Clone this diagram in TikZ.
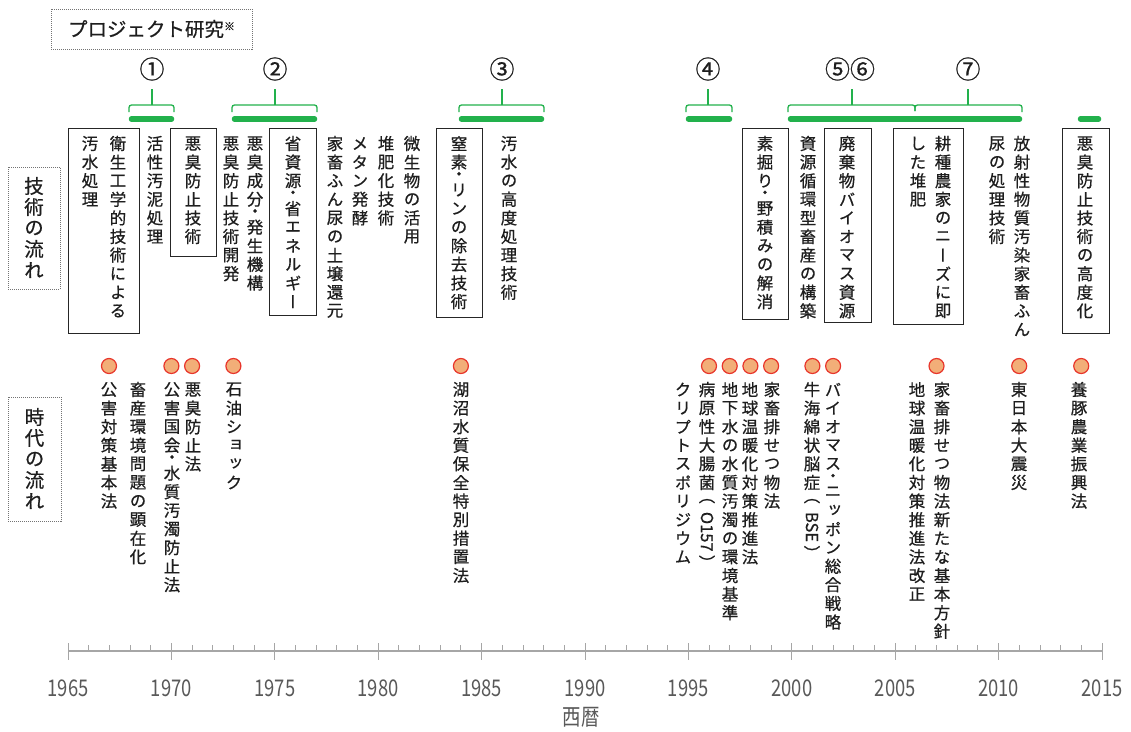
\documentclass[tikz,border=0pt]{standalone}
\usepackage{fontspec}
\usepackage{graphicx}
\setmainfont{Noto Sans CJK JP}
\newfontfamily\jp[FakeBold=0.6]{Noto Sans CJK JP}
\newfontfamily\jpv[RawFeature=+vert,FakeBold=0.6]{Noto Sans CJK JP}
\newfontfamily\jpn[FakeStretch=0.8]{Noto Sans CJK JP}
\definecolor{grn}{HTML}{22B14C}
\definecolor{dotfill}{HTML}{F2AE78}
\definecolor{dotline}{HTML}{E8352B}
\definecolor{axisgray}{HTML}{A6A6A6}
\definecolor{txtgray}{HTML}{595959}
\definecolor{ink}{HTML}{1E1E1E}
\makeatletter
\newdimen\vtpitch \vtpitch=18.6pt
\newdimen\vtw \vtw=17pt
\def\vtdot{・}
\newcommand\vrot[1]{\rotatebox{-90}{#1}}
\newcommand\vt[1]{\vbox{\offinterlineskip\@tfor\vch:=#1\do{\vt@cell}}}
\def\vt@cell{%
  \setbox\z@\hbox{\vch}%
  \dimen@=\ht\z@ \advance\dimen@\dp\z@
  \ifx\vch\vtdot \dimen@=0.5\vtpitch
  \else\ifdim\dimen@>\vtpitch \advance\dimen@ 3pt \else \dimen@=\vtpitch\fi\fi
  \hbox to\vtw{\hss\vbox to\dimen@{\vss\box\z@\vss}\hss}}
\makeatother
\begin{document}
\begin{tikzpicture}[x=1pt,y=-1pt,
  vtxt/.style={inner sep=0pt, anchor=north, text=ink, font=\jpv\fontsize{16.5}{18.6}\selectfont},
  tbox/.style={draw=black!85, line width=0.9pt},
  dbox/.style={draw=black!55, line width=0.9pt, dash pattern=on 1pt off 1pt, inner sep=0pt, text=ink},
  brk/.style={draw=grn, line width=1.3pt, rounded corners=2.5pt},
  gbar/.style={draw=grn, line width=5.5pt, line cap=round},
  numlab/.style={font=\jp\fontsize{25}{25}\selectfont, text=ink, inner sep=0pt},
  evdot/.style={circle, minimum size=15pt, inner sep=0pt, fill=dotfill, draw=dotline, line width=1.2pt},
  axisln/.style={draw=axisgray, line width=1.4pt},
  tickln/.style={draw=axisgray, line width=0.9pt},
  yr/.style={font=\jpn\fontsize{23}{23}\selectfont, text=txtgray, inner sep=0pt}]
\fill[white] (0,0) rectangle (1131,731);
\useasboundingbox (0,0) rectangle (1131,731);

% header boxes
\node[dbox, minimum width=201pt, minimum height=40pt] (proj) at (151.5,29)
  {\jp\fontsize{19.5}{20}\selectfont プロジェクト研究\raisebox{6pt}{\fontsize{11}{11}\selectfont ※}};
\node[dbox, minimum width=52pt, minimum height=122pt, font=\jpv\fontsize{19.5}{21}\selectfont] (lbltech) at (34,228)
  {\vtpitch=21pt\vt{技術の流れ}};
\node[dbox, minimum width=53pt, minimum height=124pt, font=\jpv\fontsize{19.5}{21}\selectfont] (lblera) at (34.5,459)
  {\vtpitch=21pt\vt{時代の流れ}};

% project numbers
\node[numlab] (p1) at (152,69) {①};
\node[numlab] (p2) at (275,69) {②};
\node[numlab] (p3) at (502,69) {③};
\node[numlab] (p4) at (708,69) {④};
\node[numlab] (p56) at (850,69) {⑤⑥};
\node[numlab] (p7) at (968,69) {⑦};

% brackets
\draw[brk] (129,112) -- (129,105) -- (174,105) -- (174,112);
\draw[brk] (152,105) -- (152,89);
\draw[brk] (232,112) -- (232,105) -- (317,105) -- (317,112);
\draw[brk] (275,105) -- (275,89);
\draw[brk] (459,112) -- (459,105) -- (544,105) -- (544,112);
\draw[brk] (502,105) -- (502,89);
\draw[brk] (686,112) -- (686,105) -- (732,105) -- (732,112);
\draw[brk] (708,105) -- (708,89);
\draw[brk] (788,112) -- (788,105) -- (915,105) -- (915,111);
\draw[brk] (915,111) -- (915,105) -- (1022,105) -- (1022,112);
\draw[brk] (852,105) -- (852,89);
\draw[brk] (968,105) -- (968,89);

% green bars
\draw[gbar] (131.5,119) -- (171.5,119);
\draw[gbar] (234.5,119) -- (314.5,119);
\draw[gbar] (461.5,119) -- (541.5,119);
\draw[gbar] (688.5,119) -- (729.5,119);
\draw[gbar] (790.5,119) -- (1019.5,119);
\draw[gbar] (1080.5,119) -- (1098.5,119);

% technology boxes
\draw[tbox] (68,128) rectangle (139,333);
\draw[tbox] (170,128) rectangle (216,256);
\draw[tbox] (269,128) rectangle (316,315);
\draw[tbox] (436,128) rectangle (482,317);
\draw[tbox] (742,128) rectangle (788,319);
\draw[tbox] (824,128) rectangle (871,322);
\draw[tbox] (893,128) rectangle (963,324);
\draw[tbox] (1062,128) rectangle (1109,333);

% technology texts
\node[vtxt] (t1a) at (118,134) {\vt{衛生工学的技術による}};
\node[vtxt] (t1b) at (90,134) {\vt{汚水処理}};
\node[vtxt] (t2) at (155,134) {\vt{活性汚泥処理}};
\node[vtxt] (t3) at (193,134) {\vt{悪臭防止技術}};
\node[vtxt] (t4a) at (255,134) {\vt{悪臭成分・発生機構}};
\node[vtxt] (t4b) at (231,134) {\vt{悪臭防止技術開発}};
\node[vtxt] (t5) at (293,134) {\vt{省資源・省エネルギー}};
\node[vtxt] (t6) at (335,134) {\vt{家畜ふん尿の土壌還元}};
\node[vtxt] (t7) at (360,134) {\vt{メタン発酵}};
\node[vtxt] (t8) at (386,134) {\vt{堆肥化技術}};
\node[vtxt] (t9) at (412,134) {\vt{微生物の活用}};
\node[vtxt] (t10) at (459,134) {\vt{窒素・リンの除去技術}};
\node[vtxt] (t11) at (509,134) {\vt{汚水の高度処理技術}};
\node[vtxt] (t12) at (765,134) {\vt{素掘り・野積みの解消}};
\node[vtxt] (t13) at (808,134) {\vt{資源循環型畜産の構築}};
\node[vtxt] (t14) at (847,134) {\vt{廃棄物バイオマス資源}};
\node[vtxt] (t15a) at (943,134) {\vt{耕種農家のニーズに即}};
\node[vtxt] (t15b) at (918,134) {\vt{した堆肥}};
\node[vtxt] (t16a) at (1022,134) {\vt{放射性物質汚染家畜ふん}};
\node[vtxt] (t16b) at (997,134) {\vt{尿の処理技術}};
\node[vtxt] (t17) at (1085,134) {\vt{悪臭防止技術の高度化}};

% event dots
\foreach \nm/\xx in {d1967/109, d1970/171.4, d1971/192.1, d1973/233.4, d1984/460.9,
  d1996/709, d1997/729.7, d1998/750.4, d1999/771.1, d2001/812.4, d2002/833.1,
  d2007/936.5, d2011/1019.2, d2014/1081.2}
  \node[evdot] (\nm) at (\xx,366) {};

% event texts
\node[vtxt] (e1) at (109,380) {\vt{公害対策基本法}};
\node[vtxt] (e2) at (138,380) {\vt{畜産環境問題の顕在化}};
\node[vtxt] (e3) at (172,380) {\vt{公害国会・水質汚濁防止法}};
\node[vtxt] (e4) at (193,380) {\vt{悪臭防止法}};
\node[vtxt] (e5) at (234,380) {\vt{石油ショック}};
\node[vtxt] (e6) at (461,380) {\vt{湖沼水質保全特別措置法}};
\node[vtxt] (e7a) at (707,380) {\vt{病原性大腸菌（{\vrot{O157}}）}};
\node[vtxt] (e7b) at (683,380) {\vt{クリプトスポリジウム}};
\node[vtxt] (e8) at (730,380) {\vt{地下水の水質汚濁の環境基準}};
\node[vtxt] (e9) at (750,380) {\vt{地球温暖化対策推進法}};
\node[vtxt] (e10) at (772,380) {\vt{家畜排せつ物法}};
\node[vtxt] (e11) at (812,380) {\vt{牛海綿状脳症（{\vrot{BSE}}）}};
\node[vtxt] (e12) at (833,380) {\vt{バイオマス・ニッポン総合戦略}};
\node[vtxt] (e13a) at (942,380) {\vt{家畜排せつ物法新たな基本方針}};
\node[vtxt] (e13b) at (917,380) {\vt{地球温暖化対策推進法改正}};
\node[vtxt] (e14) at (1019,380) {\vt{東日本大震災}};
\node[vtxt] (e15) at (1079,380) {\vt{養豚農業振興法}};

% axis
\draw[axisln] (68,651) -- (1102,651);
\foreach \i in {0,...,50}
  \draw[tickln] (68+\i*20.68,645) -- (68+\i*20.68,651);
\foreach \k in {0,...,10} {
  \draw[tickln] (68+\k*103.4,643) -- (68+\k*103.4,660);
  \node[yr] (y\k) at (68+\k*103.4,688) {\the\numexpr1965+5*\k\relax};
}
\node[font=\jpn\fontsize{23}{23}\selectfont, text=txtgray, inner sep=0pt] (seireki) at (581,717) {西暦};
\end{tikzpicture}
\end{document}
